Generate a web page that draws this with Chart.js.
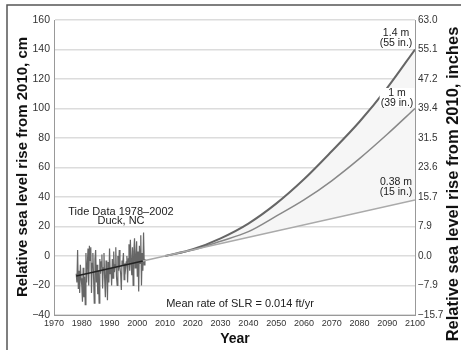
<!DOCTYPE html>
<html><head><meta charset="utf-8">
<script src="https://cdn.jsdelivr.net/npm/chart.js@4.4.0/dist/chart.umd.min.js"></script>
<style>html,body{margin:0;padding:0;background:#fff;overflow:hidden}#wrap{width:461px;height:350px;position:relative}</style>
</head><body><div id="wrap"><canvas id="c" width="461" height="350"></canvas></div>
<script>
// ---- data ----
const projYears = [2010, 2020, 2030, 2040, 2050, 2060, 2070, 2080, 2090, 2100];
const highVals  = [0, 4.6, 12, 22, 35.5, 52, 71, 91, 114, 140];   // 1.4 m
const midVals   = [0, 4, 10, 16.5, 27, 38, 51, 66, 82.5, 100];    // 1 m
const lowYears  = [1978, 2002, 2010, 2100];
const lowVals   = [-13.6, -3.4, 0, 38];                           // 0.38 m (mean rate)
const tideYears = [
 1978,1978.25,1978.5,1978.75,1979,1979.25,1979.5,1979.75,1980,1980.25,1980.5,1980.75,
 1981,1981.25,1981.5,1981.75,1982,1982.25,1982.5,1982.75,1983,1983.25,1983.5,1983.75,
 1984,1984.25,1984.5,1984.75,1985,1985.25,1985.5,1985.75,1986,1986.25,1986.5,1986.75,
 1987,1987.25,1987.5,1987.75,1988,1988.25,1988.5,1988.75,1989,1989.25,1989.5,1989.75,
 1990,1990.25,1990.5,1990.75,1991,1991.25,1991.5,1991.75,1992,1992.25,1992.5,1992.75,
 1993,1993.25,1993.5,1993.75,1994,1994.25,1994.5,1994.75,1995,1995.25,1995.5,1995.75,
 1996,1996.25,1996.5,1996.75,1997,1997.25,1997.5,1997.75,1998,1998.25,1998.5,1998.75,
 1999,1999.25,1999.5,1999.75,2000,2000.25,2000.5,2000.75,2001,2001.25,2001.5,2001.75,
 2002,2002.25,2002.5,2002.75];
const tideVals = [
 -12,-18,4,-22, -10,-25,-6,-15, -20,-31,-8,-28,
 -14,-33,2,-18, -6,5,-20,7, -3,6,-25,-5,
 2,-14,-32,-2, 4,-18,-6,-26, -10,-32,-2,-12,
 -4,1,-22,-8, 2,-16,-28,-3, -9,-30,-4,-18,
 5,-12,-8,-20, -2,-15,3,-11, -6,6,-14,-20,
 0,-10,4,-8, -12,-23,-3,-6, 2,-16,-5,-9,
 -4,0,-18,-2, 8,-10,11,-4, -13,6,-20,3,
 12,-8,-2,10, -14,3,-24,7, -5,14,-20,2,
 -10,16,-6,-2];
const xTicks = [1970,1980,1990,2000,2010,2020,2030,2040,2050,2060,2070,2080,2090,2100];
const yTicksCm = [-40,-20,0,20,40,60,80,100,120,140,160];
const yTicksIn = ['\u221215.7','\u22127.9','0.0','7.9','15.7','23.6','31.5','39.4','47.2','55.1','63.0'];

const FONT = '"Liberation Sans", Arial, Helvetica, sans-serif';
const pts = (xs, ys) => xs.map((x, i) => ({x, y: ys[i]}));

const textPlugin = {
  id: 'texts',
  afterDraw(chart) {
    const ctx = chart.ctx;
    ctx.save();
    // frame
    ctx.strokeStyle = '#555'; ctx.lineWidth = 1.5;
    ctx.beginPath(); ctx.moveTo(7, 350); ctx.lineTo(7, 5); ctx.lineTo(461, 5); ctx.stroke();
    ctx.fillStyle = '#111';
    ctx.textAlign = 'center'; ctx.textBaseline = 'middle';
    // axis titles
    ctx.font = 'bold 15px ' + FONT;
    ctx.save(); ctx.translate(22.5, 167); ctx.rotate(-Math.PI/2); ctx.fillText('Relative sea level rise from 2010, cm', 0, 0); ctx.restore();
    ctx.font = 'bold 16.5px ' + FONT;
    ctx.save(); ctx.translate(453, 184); ctx.rotate(-Math.PI/2); ctx.fillText('Relative sea level rise from 2010, inches', 0, 0); ctx.restore();
    ctx.font = 'bold 14px ' + FONT;
    ctx.fillText('Year', 235, 339);
    // annotations
    ctx.fillStyle = '#222';
    ctx.font = '11px ' + FONT;
    ctx.fillText('Tide Data 1978\u20132002', 121, 211.5);
    ctx.fillText('Duck, NC', 121, 221);
    ctx.fillText('Mean rate of SLR = 0.014 ft/yr', 240, 304);
    ctx.font = '10.5px ' + FONT;
    const lab = (a, b, x, y, bg) => {
      if (bg) {
        ctx.fillStyle = '#fff';
        const w = Math.max(ctx.measureText(a).width, ctx.measureText(b).width);
        ctx.fillRect(x - w/2 - 1, y - 5, w + 2, 19);
      }
      ctx.fillStyle = '#222';
      ctx.fillText(a, x, y);
      ctx.fillText(b, x, y + 9.8);
    };
    lab('1.4 m', '(55 in.)', 396, 33.5, false);
    lab('1 m', '(39 in.)', 397, 93, true);
    lab('0.38 m', '(15 in.)', 396, 182.5, false);
    ctx.restore();
  }
};

new Chart(document.getElementById('c'), {
  type: 'line',
  data: {
    datasets: [
      { data: pts(lowYears, lowVals), borderWidth: 1.5, borderColor: '#aaa', pointRadius: 0, tension: 0,
        segment: { borderColor: c => c.p1.parsed.x <= 2002 ? '#222' : '#aaa' }, fill: false },
      { data: pts(projYears, highVals), borderColor: '#666', borderWidth: 2, pointRadius: 0, tension: 0.4,
        cubicInterpolationMode: 'monotone', fill: '-1', backgroundColor: '#f6f6f6' },
      { data: pts(projYears, midVals), borderColor: '#888', borderWidth: 1.5, pointRadius: 0, tension: 0.4,
        cubicInterpolationMode: 'monotone', fill: false },
      { data: pts(tideYears, tideVals), borderColor: '#666', borderWidth: 1.2, pointRadius: 0, tension: 0, fill: false }
    ]
  },
  options: {
    responsive: false, animation: false, devicePixelRatio: 1,
    layout: { padding: { top: 20, left: 0, right: 0, bottom: 0 } },
    plugins: { legend: { display: false }, tooltip: { enabled: false }, filler: { drawTime: 'beforeDatasetsDraw' } },
    scales: {
      x: { type: 'linear', min: 1970, max: 2100,
        afterBuildTicks: s => { s.ticks = xTicks.map(v => ({value: v})); },
        ticks: { callback: v => String(v), font: { size: 9, family: FONT }, color: '#333', padding: 3, maxRotation: 0, autoSkip: false },
        grid: { display: false, drawTicks: false }, border: { color: '#999', width: 1 },
        afterFit: s => { s.height = 35; } },
      y: { min: -40, max: 160,
        afterBuildTicks: s => { s.ticks = yTicksCm.map(v => ({value: v})); },
        ticks: { callback: v => v < 0 ? '\u2212' + Math.abs(v) : String(v), font: { size: 10.5, family: FONT }, color: '#333', padding: 4 },
        grid: { color: '#dcdcdc', lineWidth: 1.5, drawTicks: false }, border: { color: '#999', width: 1 },
        afterFit: s => { s.width = 54; } },
      y2: { position: 'right', min: -40, max: 160,
        afterBuildTicks: s => { s.ticks = yTicksCm.map(v => ({value: v})); },
        ticks: { callback: v => yTicksIn[yTicksCm.indexOf(v)], font: { size: 10, family: FONT }, color: '#333', padding: 3 },
        grid: { display: false, drawTicks: false }, border: { color: '#999', width: 1 },
        afterFit: s => { s.width = 46; } }
    }
  },
  plugins: [textPlugin]
});
</script></body></html>
